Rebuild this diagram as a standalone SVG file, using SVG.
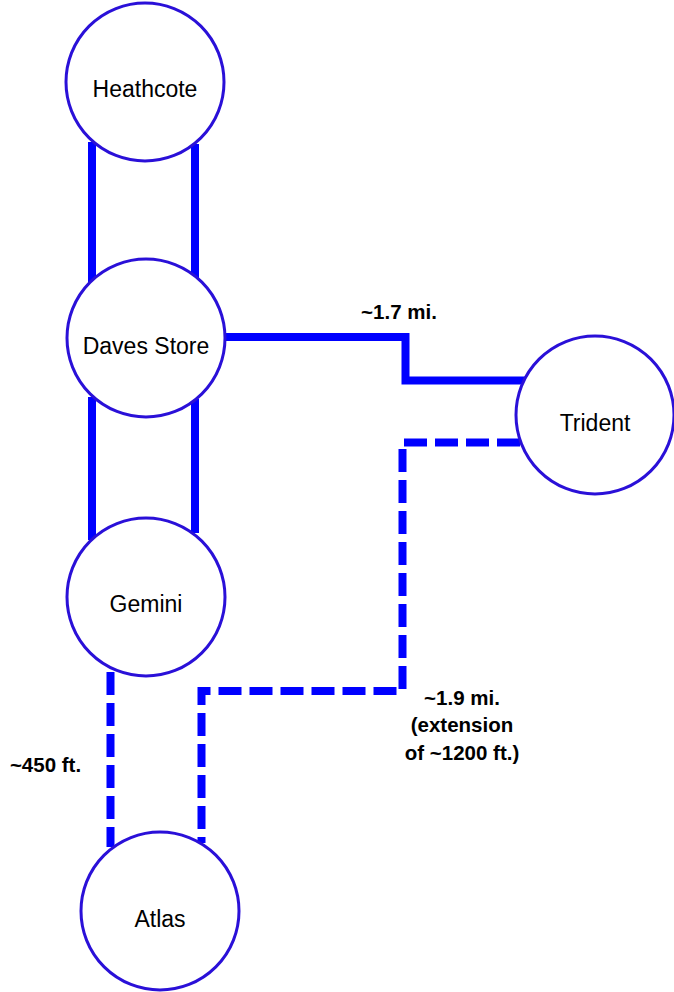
<svg xmlns="http://www.w3.org/2000/svg" width="674" height="992" viewBox="0 0 674 992">
<style>
.node circle{fill:#ffffff;stroke:#2a10d8;stroke-width:3}
.node text{font-family:"Liberation Sans",Arial,sans-serif;font-size:23px;fill:#000;text-anchor:middle}
.solid{fill:none;stroke:#0000ff;stroke-width:8;stroke-linecap:butt}
.dash{fill:none;stroke:#0000ff;stroke-width:8;stroke-dasharray:23 8;stroke-linecap:butt}
.lbl{font-family:"Liberation Sans",Arial,sans-serif;font-size:20.5px;font-weight:bold;fill:#000;text-anchor:middle}
</style>
<rect width="674" height="992" fill="#ffffff"/>
<g id="connectors">
<line class="solid" x1="92" y1="142" x2="92" y2="286"/>
<line class="solid" x1="195" y1="144" x2="195" y2="279"/>
<line class="solid" x1="92" y1="397" x2="92" y2="540"/>
<line class="solid" x1="195" y1="399" x2="195" y2="533"/>
<polyline class="solid" points="226,337 405.5,337 405.5,380.5 526,380.5"/>
<line class="dash" x1="110.5" y1="672" x2="110.5" y2="847"/>
<polyline class="dash" points="520,442.5 402.5,442.5 402.5,691 201.5,691 201.5,843"/>
</g>
<g id="labels">
<text class="lbl" x="399" y="319">~1.7 mi.</text>
<text class="lbl" x="45.5" y="772">~450 ft.</text>
<text class="lbl" x="462" y="705">~1.9 mi.</text>
<text class="lbl" x="462" y="732">(extension</text>
<text class="lbl" x="462" y="760">of ~1200 ft.)</text>
</g>
<g id="heathcote" class="node"><circle cx="145" cy="82" r="79"/><text x="145" y="97">Heathcote</text></g>
<g id="daves-store" class="node"><circle cx="146" cy="338" r="79"/><text x="146" y="354">Daves Store</text></g>
<g id="gemini" class="node"><circle cx="146" cy="597" r="79"/><text x="146" y="612">Gemini</text></g>
<g id="trident" class="node"><circle cx="595" cy="415" r="79"/><text x="595" y="431">Trident</text></g>
<g id="atlas" class="node"><circle cx="160" cy="911" r="79"/><text x="160" y="927">Atlas</text></g>
</svg>
